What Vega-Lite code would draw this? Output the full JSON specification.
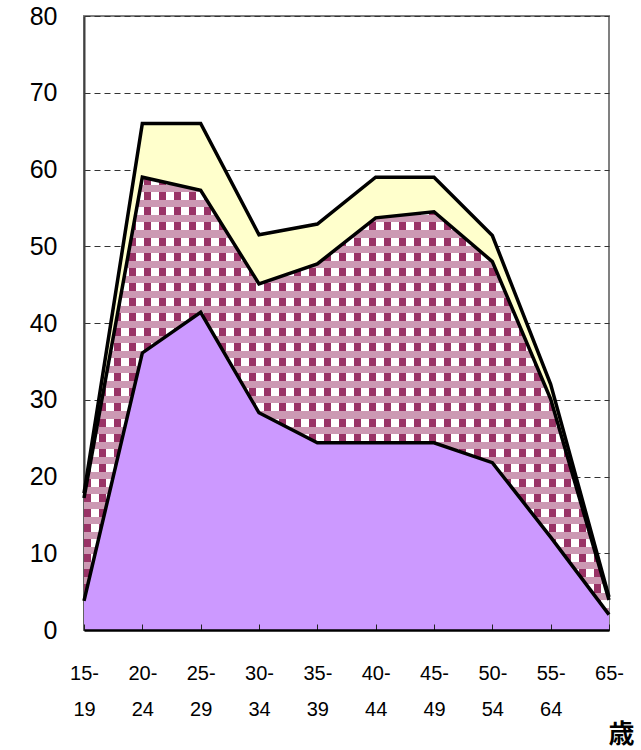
{
  "$schema": "https://vega.github.io/schema/vega-lite/v6.json",
  "width": 525,
  "height": 614,
  "autosize": "none",
  "padding": {"left": 84, "top": 16, "right": 32, "bottom": 120},
  "background": "white",
  "config": {
    "view": {"stroke": "#808080", "strokeWidth": 2},
    "font": "Liberation Sans"
  },
  "data": {
    "values": [
      {"age": "15-19", "series": "s1", "order": 1, "value": 3.8},
      {"age": "15-19", "series": "s2", "order": 2, "value": 13.4},
      {"age": "15-19", "series": "s3", "order": 3, "value": 0.6},
      {"age": "20-24", "series": "s1", "order": 1, "value": 36.1},
      {"age": "20-24", "series": "s2", "order": 2, "value": 22.9},
      {"age": "20-24", "series": "s3", "order": 3, "value": 7.0},
      {"age": "25-29", "series": "s1", "order": 1, "value": 41.4},
      {"age": "25-29", "series": "s2", "order": 2, "value": 15.9},
      {"age": "25-29", "series": "s3", "order": 3, "value": 8.7},
      {"age": "30-34", "series": "s1", "order": 1, "value": 28.3},
      {"age": "30-34", "series": "s2", "order": 2, "value": 16.8},
      {"age": "30-34", "series": "s3", "order": 3, "value": 6.4},
      {"age": "35-39", "series": "s1", "order": 1, "value": 24.4},
      {"age": "35-39", "series": "s2", "order": 2, "value": 23.3},
      {"age": "35-39", "series": "s3", "order": 3, "value": 5.2},
      {"age": "40-44", "series": "s1", "order": 1, "value": 24.4},
      {"age": "40-44", "series": "s2", "order": 2, "value": 29.3},
      {"age": "40-44", "series": "s3", "order": 3, "value": 5.3},
      {"age": "45-49", "series": "s1", "order": 1, "value": 24.4},
      {"age": "45-49", "series": "s2", "order": 2, "value": 30.1},
      {"age": "45-49", "series": "s3", "order": 3, "value": 4.5},
      {"age": "50-54", "series": "s1", "order": 1, "value": 21.8},
      {"age": "50-54", "series": "s2", "order": 2, "value": 26.2},
      {"age": "50-54", "series": "s3", "order": 3, "value": 3.4},
      {"age": "55-64", "series": "s1", "order": 1, "value": 12.1},
      {"age": "55-64", "series": "s2", "order": 2, "value": 18.0},
      {"age": "55-64", "series": "s3", "order": 3, "value": 1.9},
      {"age": "65-", "series": "s1", "order": 1, "value": 2.0},
      {"age": "65-", "series": "s2", "order": 2, "value": 1.9},
      {"age": "65-", "series": "s3", "order": 3, "value": 0.4}
    ]
  },
  "transform": [
    {"stack": "value", "groupby": ["age"], "sort": [{"field": "order", "order": "ascending"}], "as": ["v0", "v1"]}
  ],
  "encoding": {
    "x": {
      "field": "age",
      "type": "ordinal",
      "scale": {"type": "point", "padding": 0, "domain": ["15-19", "20-24", "25-29", "30-34", "35-39", "40-44", "45-49", "50-54", "55-64", "65-"]},
      "axis": {
        "zindex": 1,
        "title": "歳",
        "titleFont": "Noto Sans CJK JP",
        "titleFontSize": 26,
        "titleFontWeight": "bold",
        "titleColor": "black",
        "titleAlign": "right",
        "titleAnchor": null,
        "titleBaseline": "middle",
        "titleX": 550,
        "titleY": 104,
        "labelAngle": 0,
        "labelExpr": "[slice(datum.label, 0, 3), slice(datum.label, 3)]",
        "labelFontSize": 20,
        "labelFontWeight": "normal",
        "labelColor": "black",
        "labelLineHeight": 36,
        "labelPadding": 39,
        "labelBaseline": "top",
        "ticks": true,
        "tickSize": -6,
        "tickColor": "#222222",
        "tickWidth": 1,
        "domainColor": "black",
        "domainWidth": 2.5,
        "grid": false
      }
    }
  },
  "layer": [
    {
      "transform": [{"filter": "datum.series === 's1'"}],
      "mark": {"type": "area", "fill": "#CC99FF", "stroke": null},
      "encoding": {
        "y": {
          "field": "v1",
          "type": "quantitative",
          "scale": {"domain": [0, 80], "nice": false},
          "axis": {
            "title": null,
            "values": [0, 10, 20, 30, 40, 50, 60, 70, 80],
            "labelFontSize": 25,
            "labelFontWeight": "normal",
            "labelColor": "black",
            "labelPadding": 27,
            "ticks": false,
            "grid": true,
            "gridColor": "#333333",
            "gridDash": [6, 4],
            "gridWidth": 1,
            "domainColor": "#404040",
            "domainWidth": 2
          }
        },
        "y2": {"field": "v0"}
      }
    },
    {
      "transform": [{"filter": "datum.series === 's2'"}],
      "mark": {
        "type": "area",
        "stroke": null,
        "fill": {
          "gradient": "linear", "x1": 0, "y1": 0, "x2": 1, "y2": 0,
          "stops": [
            {"offset": 0, "color": "#993366"}, {"offset": 0.01333, "color": "#993366"}, {"offset": 0.01333, "color": "#ffffff"}, {"offset": 0.02857, "color": "#ffffff"},
            {"offset": 0.02857, "color": "#993366"}, {"offset": 0.04190, "color": "#993366"}, {"offset": 0.04190, "color": "#ffffff"}, {"offset": 0.05714, "color": "#ffffff"},
            {"offset": 0.05714, "color": "#993366"}, {"offset": 0.07048, "color": "#993366"}, {"offset": 0.07048, "color": "#ffffff"}, {"offset": 0.08571, "color": "#ffffff"},
            {"offset": 0.08571, "color": "#993366"}, {"offset": 0.09905, "color": "#993366"}, {"offset": 0.09905, "color": "#ffffff"}, {"offset": 0.11429, "color": "#ffffff"},
            {"offset": 0.11429, "color": "#993366"}, {"offset": 0.12762, "color": "#993366"}, {"offset": 0.12762, "color": "#ffffff"}, {"offset": 0.14286, "color": "#ffffff"},
            {"offset": 0.14286, "color": "#993366"}, {"offset": 0.15619, "color": "#993366"}, {"offset": 0.15619, "color": "#ffffff"}, {"offset": 0.17143, "color": "#ffffff"},
            {"offset": 0.17143, "color": "#993366"}, {"offset": 0.18476, "color": "#993366"}, {"offset": 0.18476, "color": "#ffffff"}, {"offset": 0.2, "color": "#ffffff"},
            {"offset": 0.2, "color": "#993366"}, {"offset": 0.21333, "color": "#993366"}, {"offset": 0.21333, "color": "#ffffff"}, {"offset": 0.22857, "color": "#ffffff"},
            {"offset": 0.22857, "color": "#993366"}, {"offset": 0.24190, "color": "#993366"}, {"offset": 0.24190, "color": "#ffffff"}, {"offset": 0.25714, "color": "#ffffff"},
            {"offset": 0.25714, "color": "#993366"}, {"offset": 0.27048, "color": "#993366"}, {"offset": 0.27048, "color": "#ffffff"}, {"offset": 0.28571, "color": "#ffffff"},
            {"offset": 0.28571, "color": "#993366"}, {"offset": 0.29905, "color": "#993366"}, {"offset": 0.29905, "color": "#ffffff"}, {"offset": 0.31429, "color": "#ffffff"},
            {"offset": 0.31429, "color": "#993366"}, {"offset": 0.32762, "color": "#993366"}, {"offset": 0.32762, "color": "#ffffff"}, {"offset": 0.34286, "color": "#ffffff"},
            {"offset": 0.34286, "color": "#993366"}, {"offset": 0.35619, "color": "#993366"}, {"offset": 0.35619, "color": "#ffffff"}, {"offset": 0.37143, "color": "#ffffff"},
            {"offset": 0.37143, "color": "#993366"}, {"offset": 0.38476, "color": "#993366"}, {"offset": 0.38476, "color": "#ffffff"}, {"offset": 0.4, "color": "#ffffff"},
            {"offset": 0.4, "color": "#993366"}, {"offset": 0.41333, "color": "#993366"}, {"offset": 0.41333, "color": "#ffffff"}, {"offset": 0.42857, "color": "#ffffff"},
            {"offset": 0.42857, "color": "#993366"}, {"offset": 0.44190, "color": "#993366"}, {"offset": 0.44190, "color": "#ffffff"}, {"offset": 0.45714, "color": "#ffffff"},
            {"offset": 0.45714, "color": "#993366"}, {"offset": 0.47048, "color": "#993366"}, {"offset": 0.47048, "color": "#ffffff"}, {"offset": 0.48571, "color": "#ffffff"},
            {"offset": 0.48571, "color": "#993366"}, {"offset": 0.49905, "color": "#993366"}, {"offset": 0.49905, "color": "#ffffff"}, {"offset": 0.51429, "color": "#ffffff"},
            {"offset": 0.51429, "color": "#993366"}, {"offset": 0.52762, "color": "#993366"}, {"offset": 0.52762, "color": "#ffffff"}, {"offset": 0.54286, "color": "#ffffff"},
            {"offset": 0.54286, "color": "#993366"}, {"offset": 0.55619, "color": "#993366"}, {"offset": 0.55619, "color": "#ffffff"}, {"offset": 0.57143, "color": "#ffffff"},
            {"offset": 0.57143, "color": "#993366"}, {"offset": 0.58476, "color": "#993366"}, {"offset": 0.58476, "color": "#ffffff"}, {"offset": 0.6, "color": "#ffffff"},
            {"offset": 0.6, "color": "#993366"}, {"offset": 0.61333, "color": "#993366"}, {"offset": 0.61333, "color": "#ffffff"}, {"offset": 0.62857, "color": "#ffffff"},
            {"offset": 0.62857, "color": "#993366"}, {"offset": 0.64190, "color": "#993366"}, {"offset": 0.64190, "color": "#ffffff"}, {"offset": 0.65714, "color": "#ffffff"},
            {"offset": 0.65714, "color": "#993366"}, {"offset": 0.67048, "color": "#993366"}, {"offset": 0.67048, "color": "#ffffff"}, {"offset": 0.68571, "color": "#ffffff"},
            {"offset": 0.68571, "color": "#993366"}, {"offset": 0.69905, "color": "#993366"}, {"offset": 0.69905, "color": "#ffffff"}, {"offset": 0.71429, "color": "#ffffff"},
            {"offset": 0.71429, "color": "#993366"}, {"offset": 0.72762, "color": "#993366"}, {"offset": 0.72762, "color": "#ffffff"}, {"offset": 0.74286, "color": "#ffffff"},
            {"offset": 0.74286, "color": "#993366"}, {"offset": 0.75619, "color": "#993366"}, {"offset": 0.75619, "color": "#ffffff"}, {"offset": 0.77143, "color": "#ffffff"},
            {"offset": 0.77143, "color": "#993366"}, {"offset": 0.78476, "color": "#993366"}, {"offset": 0.78476, "color": "#ffffff"}, {"offset": 0.8, "color": "#ffffff"},
            {"offset": 0.8, "color": "#993366"}, {"offset": 0.81333, "color": "#993366"}, {"offset": 0.81333, "color": "#ffffff"}, {"offset": 0.82857, "color": "#ffffff"},
            {"offset": 0.82857, "color": "#993366"}, {"offset": 0.84190, "color": "#993366"}, {"offset": 0.84190, "color": "#ffffff"}, {"offset": 0.85714, "color": "#ffffff"},
            {"offset": 0.85714, "color": "#993366"}, {"offset": 0.87048, "color": "#993366"}, {"offset": 0.87048, "color": "#ffffff"}, {"offset": 0.88571, "color": "#ffffff"},
            {"offset": 0.88571, "color": "#993366"}, {"offset": 0.89905, "color": "#993366"}, {"offset": 0.89905, "color": "#ffffff"}, {"offset": 0.91429, "color": "#ffffff"},
            {"offset": 0.91429, "color": "#993366"}, {"offset": 0.92762, "color": "#993366"}, {"offset": 0.92762, "color": "#ffffff"}, {"offset": 0.94286, "color": "#ffffff"},
            {"offset": 0.94286, "color": "#993366"}, {"offset": 0.95619, "color": "#993366"}, {"offset": 0.95619, "color": "#ffffff"}, {"offset": 0.97143, "color": "#ffffff"},
            {"offset": 0.97143, "color": "#993366"}, {"offset": 0.98476, "color": "#993366"}, {"offset": 0.98476, "color": "#ffffff"}, {"offset": 1, "color": "#ffffff"}
          ]
        }
      },
      "encoding": {
        "y": {"field": "v1", "type": "quantitative"},
        "y2": {"field": "v0"}
      }
    },
    {
      "transform": [{"filter": "datum.series === 's2'"}],
      "mark": {
        "type": "area",
        "stroke": null,
        "fill": {
          "gradient": "linear", "x1": 0, "y1": 0, "x2": 0, "y2": 1,
          "stops": [
            {"offset": 0, "color": "rgba(255,255,255,0)"}, {"offset": 0.01839, "color": "rgba(255,255,255,0)"}, {"offset": 0.01839, "color": "#CC99B3"}, {"offset": 0.03448, "color": "#CC99B3"},
            {"offset": 0.03448, "color": "rgba(255,255,255,0)"}, {"offset": 0.05287, "color": "rgba(255,255,255,0)"}, {"offset": 0.05287, "color": "#CC99B3"}, {"offset": 0.06897, "color": "#CC99B3"},
            {"offset": 0.06897, "color": "rgba(255,255,255,0)"}, {"offset": 0.08736, "color": "rgba(255,255,255,0)"}, {"offset": 0.08736, "color": "#CC99B3"}, {"offset": 0.10345, "color": "#CC99B3"},
            {"offset": 0.10345, "color": "rgba(255,255,255,0)"}, {"offset": 0.12184, "color": "rgba(255,255,255,0)"}, {"offset": 0.12184, "color": "#CC99B3"}, {"offset": 0.13793, "color": "#CC99B3"},
            {"offset": 0.13793, "color": "rgba(255,255,255,0)"}, {"offset": 0.15632, "color": "rgba(255,255,255,0)"}, {"offset": 0.15632, "color": "#CC99B3"}, {"offset": 0.17241, "color": "#CC99B3"},
            {"offset": 0.17241, "color": "rgba(255,255,255,0)"}, {"offset": 0.19080, "color": "rgba(255,255,255,0)"}, {"offset": 0.19080, "color": "#CC99B3"}, {"offset": 0.20690, "color": "#CC99B3"},
            {"offset": 0.20690, "color": "rgba(255,255,255,0)"}, {"offset": 0.22529, "color": "rgba(255,255,255,0)"}, {"offset": 0.22529, "color": "#CC99B3"}, {"offset": 0.24138, "color": "#CC99B3"},
            {"offset": 0.24138, "color": "rgba(255,255,255,0)"}, {"offset": 0.25977, "color": "rgba(255,255,255,0)"}, {"offset": 0.25977, "color": "#CC99B3"}, {"offset": 0.27586, "color": "#CC99B3"},
            {"offset": 0.27586, "color": "rgba(255,255,255,0)"}, {"offset": 0.29425, "color": "rgba(255,255,255,0)"}, {"offset": 0.29425, "color": "#CC99B3"}, {"offset": 0.31034, "color": "#CC99B3"},
            {"offset": 0.31034, "color": "rgba(255,255,255,0)"}, {"offset": 0.32874, "color": "rgba(255,255,255,0)"}, {"offset": 0.32874, "color": "#CC99B3"}, {"offset": 0.34483, "color": "#CC99B3"},
            {"offset": 0.34483, "color": "rgba(255,255,255,0)"}, {"offset": 0.36322, "color": "rgba(255,255,255,0)"}, {"offset": 0.36322, "color": "#CC99B3"}, {"offset": 0.37931, "color": "#CC99B3"},
            {"offset": 0.37931, "color": "rgba(255,255,255,0)"}, {"offset": 0.39770, "color": "rgba(255,255,255,0)"}, {"offset": 0.39770, "color": "#CC99B3"}, {"offset": 0.41379, "color": "#CC99B3"},
            {"offset": 0.41379, "color": "rgba(255,255,255,0)"}, {"offset": 0.43218, "color": "rgba(255,255,255,0)"}, {"offset": 0.43218, "color": "#CC99B3"}, {"offset": 0.44828, "color": "#CC99B3"},
            {"offset": 0.44828, "color": "rgba(255,255,255,0)"}, {"offset": 0.46667, "color": "rgba(255,255,255,0)"}, {"offset": 0.46667, "color": "#CC99B3"}, {"offset": 0.48276, "color": "#CC99B3"},
            {"offset": 0.48276, "color": "rgba(255,255,255,0)"}, {"offset": 0.50115, "color": "rgba(255,255,255,0)"}, {"offset": 0.50115, "color": "#CC99B3"}, {"offset": 0.51724, "color": "#CC99B3"},
            {"offset": 0.51724, "color": "rgba(255,255,255,0)"}, {"offset": 0.53563, "color": "rgba(255,255,255,0)"}, {"offset": 0.53563, "color": "#CC99B3"}, {"offset": 0.55172, "color": "#CC99B3"},
            {"offset": 0.55172, "color": "rgba(255,255,255,0)"}, {"offset": 0.57011, "color": "rgba(255,255,255,0)"}, {"offset": 0.57011, "color": "#CC99B3"}, {"offset": 0.58621, "color": "#CC99B3"},
            {"offset": 0.58621, "color": "rgba(255,255,255,0)"}, {"offset": 0.60460, "color": "rgba(255,255,255,0)"}, {"offset": 0.60460, "color": "#CC99B3"}, {"offset": 0.62069, "color": "#CC99B3"},
            {"offset": 0.62069, "color": "rgba(255,255,255,0)"}, {"offset": 0.63908, "color": "rgba(255,255,255,0)"}, {"offset": 0.63908, "color": "#CC99B3"}, {"offset": 0.65517, "color": "#CC99B3"},
            {"offset": 0.65517, "color": "rgba(255,255,255,0)"}, {"offset": 0.67356, "color": "rgba(255,255,255,0)"}, {"offset": 0.67356, "color": "#CC99B3"}, {"offset": 0.68966, "color": "#CC99B3"},
            {"offset": 0.68966, "color": "rgba(255,255,255,0)"}, {"offset": 0.70805, "color": "rgba(255,255,255,0)"}, {"offset": 0.70805, "color": "#CC99B3"}, {"offset": 0.72414, "color": "#CC99B3"},
            {"offset": 0.72414, "color": "rgba(255,255,255,0)"}, {"offset": 0.74253, "color": "rgba(255,255,255,0)"}, {"offset": 0.74253, "color": "#CC99B3"}, {"offset": 0.75862, "color": "#CC99B3"},
            {"offset": 0.75862, "color": "rgba(255,255,255,0)"}, {"offset": 0.77701, "color": "rgba(255,255,255,0)"}, {"offset": 0.77701, "color": "#CC99B3"}, {"offset": 0.79310, "color": "#CC99B3"},
            {"offset": 0.79310, "color": "rgba(255,255,255,0)"}, {"offset": 0.81149, "color": "rgba(255,255,255,0)"}, {"offset": 0.81149, "color": "#CC99B3"}, {"offset": 0.82759, "color": "#CC99B3"},
            {"offset": 0.82759, "color": "rgba(255,255,255,0)"}, {"offset": 0.84598, "color": "rgba(255,255,255,0)"}, {"offset": 0.84598, "color": "#CC99B3"}, {"offset": 0.86207, "color": "#CC99B3"},
            {"offset": 0.86207, "color": "rgba(255,255,255,0)"}, {"offset": 0.88046, "color": "rgba(255,255,255,0)"}, {"offset": 0.88046, "color": "#CC99B3"}, {"offset": 0.89655, "color": "#CC99B3"},
            {"offset": 0.89655, "color": "rgba(255,255,255,0)"}, {"offset": 0.91494, "color": "rgba(255,255,255,0)"}, {"offset": 0.91494, "color": "#CC99B3"}, {"offset": 0.93103, "color": "#CC99B3"},
            {"offset": 0.93103, "color": "rgba(255,255,255,0)"}, {"offset": 0.94943, "color": "rgba(255,255,255,0)"}, {"offset": 0.94943, "color": "#CC99B3"}, {"offset": 0.96552, "color": "#CC99B3"},
            {"offset": 0.96552, "color": "rgba(255,255,255,0)"}, {"offset": 0.98391, "color": "rgba(255,255,255,0)"}, {"offset": 0.98391, "color": "#CC99B3"}, {"offset": 1, "color": "#CC99B3"}
          ]
        }
      },
      "encoding": {
        "y": {"field": "v1", "type": "quantitative"},
        "y2": {"field": "v0"}
      }
    },
    {
      "transform": [{"filter": "datum.series === 's3'"}],
      "mark": {"type": "area", "fill": "#FFFFCC", "stroke": null},
      "encoding": {
        "y": {"field": "v1", "type": "quantitative"},
        "y2": {"field": "v0"}
      }
    },
    {
      "mark": {"type": "line", "color": "black", "strokeWidth": 3.5, "strokeJoin": "miter"},
      "encoding": {
        "y": {"field": "v1", "type": "quantitative"},
        "detail": {"field": "series"}
      }
    }
  ]
}
